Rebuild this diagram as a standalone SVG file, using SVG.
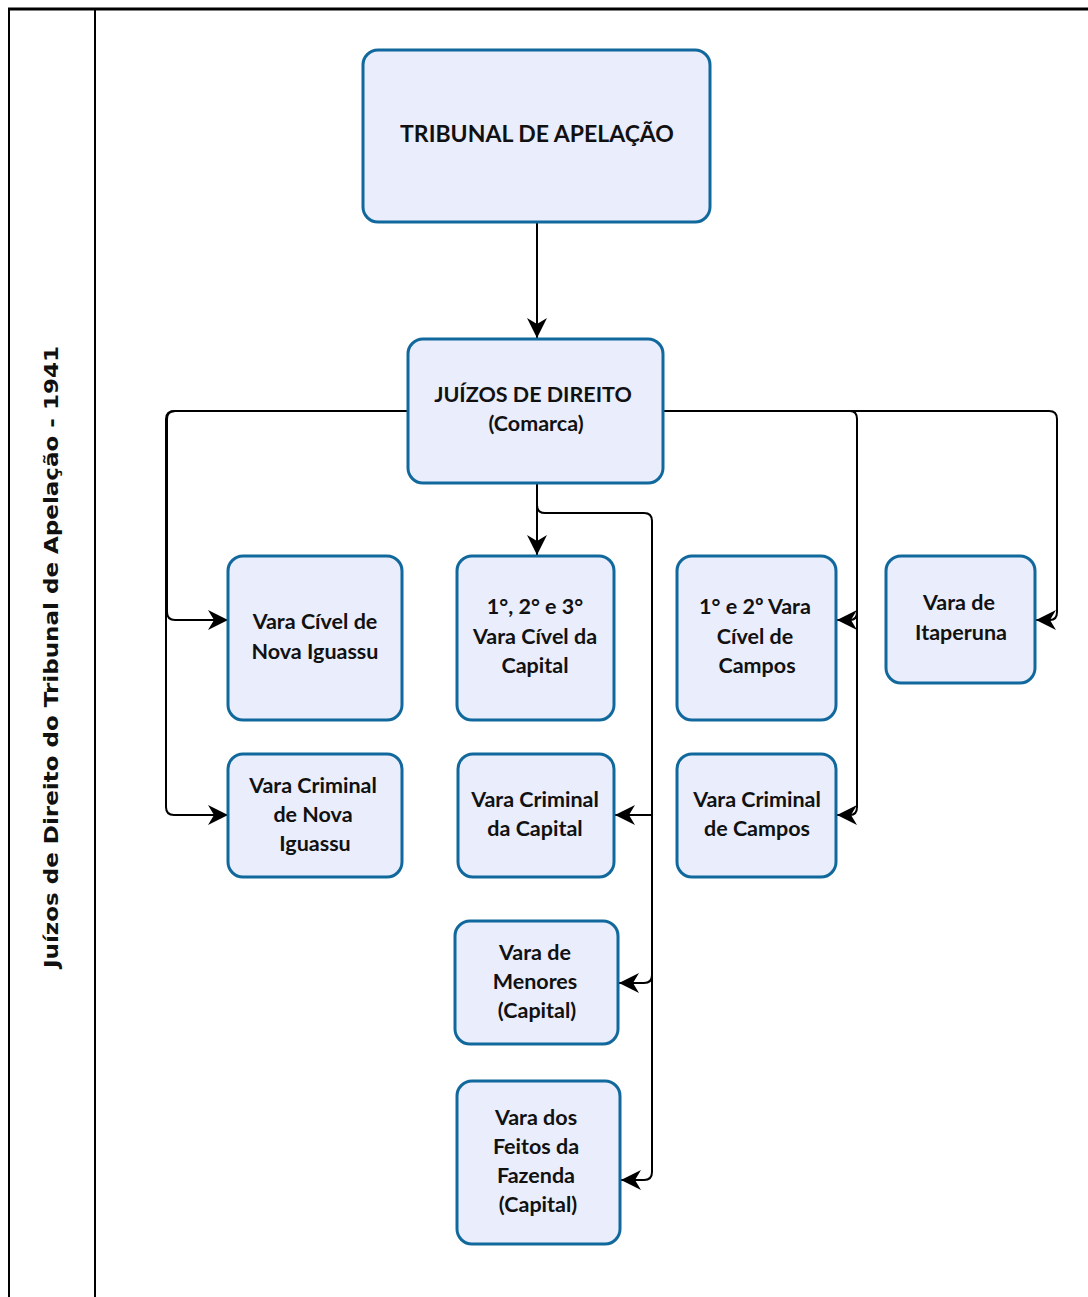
<svg xmlns="http://www.w3.org/2000/svg" width="1088" height="1297" viewBox="0 0 1088 1297">
<style>
.n rect{fill:#e9edfc;stroke:#10689c;stroke-width:3}
.n text{font-family:Lato,"Open Sans",sans-serif;font-weight:700;font-size:21.5px;fill:#111;text-anchor:middle}
.n text.big{font-size:23px}
.c path{fill:none;stroke:#000;stroke-width:2}
.frame{fill:none;stroke:#000}
</style>
<defs>
<marker id="ah" markerWidth="22" markerHeight="22" viewBox="0 0 22 22" refX="20" refY="11" orient="auto" markerUnits="userSpaceOnUse">
<path d="M0,1 L20,11 L0,21 L6,11 Z" fill="#000"/>
</marker>
</defs>
<rect width="1088" height="1297" fill="#fff"/>
<g id="frame">
<line class="frame" x1="8" y1="9" x2="1088" y2="9" stroke-width="3"/>
<line class="frame" x1="9" y1="8" x2="9" y2="1297" stroke-width="2" stroke="#333"/>
<line class="frame" x1="95" y1="9" x2="95" y2="1297" stroke-width="2"/>
<text x="0" y="0" transform="translate(58,657) rotate(-90)" font-family="'DejaVu Sans',Verdana,sans-serif" font-weight="700" font-size="20" text-anchor="middle" textLength="622" lengthAdjust="spacingAndGlyphs" fill="#111">Juízos de Direito do Tribunal de Apelação - 1941</text>
</g>
<g id="connectors" class="c">
<path d="M537,222 V338" marker-end="url(#ah)"/>
<path d="M408,411 H175 Q167,411 167,419 V612 Q167,620 175,620 H228" marker-end="url(#ah)"/>
<path d="M408,411 H175 Q166,411 166,419 V807 Q166,815 174,815 H228" marker-end="url(#ah)"/>
<path d="M537,483 V555" marker-end="url(#ah)"/>
<path d="M537,483 V505 Q537,513 545,513 H644 Q652,513 652,521 V815 H615" marker-end="url(#ah)"/>
<path d="M652,815 V975 Q652,983 644,983 H619" marker-end="url(#ah)"/>
<path d="M652,975 V1172 Q652,1180 644,1180 H621" marker-end="url(#ah)"/>
<path d="M663,411 H850 Q857,411 857,419 V612 Q857,620 850,620 H837" marker-end="url(#ah)"/>
<path d="M857,612 V807 Q857,815 850,815 H837" marker-end="url(#ah)"/>
<path d="M850,411 H1049 Q1057,411 1057,419 V612 Q1057,620 1050,620 H1036" marker-end="url(#ah)"/>
</g>
<g id="n-tribunal" class="n"><rect x="363" y="50" width="347" height="172" rx="15"/><text class="big" x="537" y="142">TRIBUNAL DE APELAÇÃO</text></g>
<g id="n-juizos" class="n"><rect x="408" y="339" width="255" height="144" rx="15"/><text x="533" y="402">JUÍZOS DE DIREITO</text><text x="536" y="431">(Comarca)</text></g>
<g id="n-civel-ni" class="n"><rect x="228" y="556" width="174" height="164" rx="15"/><text x="315" y="629">Vara Cível de</text><text x="315" y="659">Nova Iguassu</text></g>
<g id="n-civel-cap" class="n"><rect x="457" y="556" width="157" height="164" rx="15"/><text x="535" y="614">1°, 2° e 3°</text><text x="535" y="644">Vara Cível da</text><text x="535" y="673">Capital</text></g>
<g id="n-civel-campos" class="n"><rect x="677" y="556" width="159" height="164" rx="15"/><text x="755" y="614">1° e 2º Vara</text><text x="755" y="644">Cível de</text><text x="757" y="673">Campos</text></g>
<g id="n-itaperuna" class="n"><rect x="886" y="556" width="149" height="127" rx="15"/><text x="959" y="610">Vara de</text><text x="961" y="640">Itaperuna</text></g>
<g id="n-crim-ni" class="n"><rect x="228" y="754" width="174" height="123" rx="15"/><text x="313" y="793">Vara Criminal</text><text x="313" y="822">de Nova</text><text x="315" y="851">Iguassu</text></g>
<g id="n-crim-cap" class="n"><rect x="458" y="754" width="156" height="123" rx="15"/><text x="535" y="807">Vara Criminal</text><text x="535" y="836">da Capital</text></g>
<g id="n-crim-campos" class="n"><rect x="677" y="754" width="159" height="123" rx="15"/><text x="757" y="807">Vara Criminal</text><text x="757" y="836">de Campos</text></g>
<g id="n-menores" class="n"><rect x="455" y="921" width="163" height="123" rx="15"/><text x="535" y="960">Vara de</text><text x="535" y="989">Menores</text><text x="537" y="1018">(Capital)</text></g>
<g id="n-fazenda" class="n"><rect x="457" y="1081" width="163" height="163" rx="15"/><text x="536" y="1125">Vara dos</text><text x="536" y="1154">Feitos da</text><text x="536" y="1183">Fazenda</text><text x="538" y="1212">(Capital)</text></g>
</svg>
